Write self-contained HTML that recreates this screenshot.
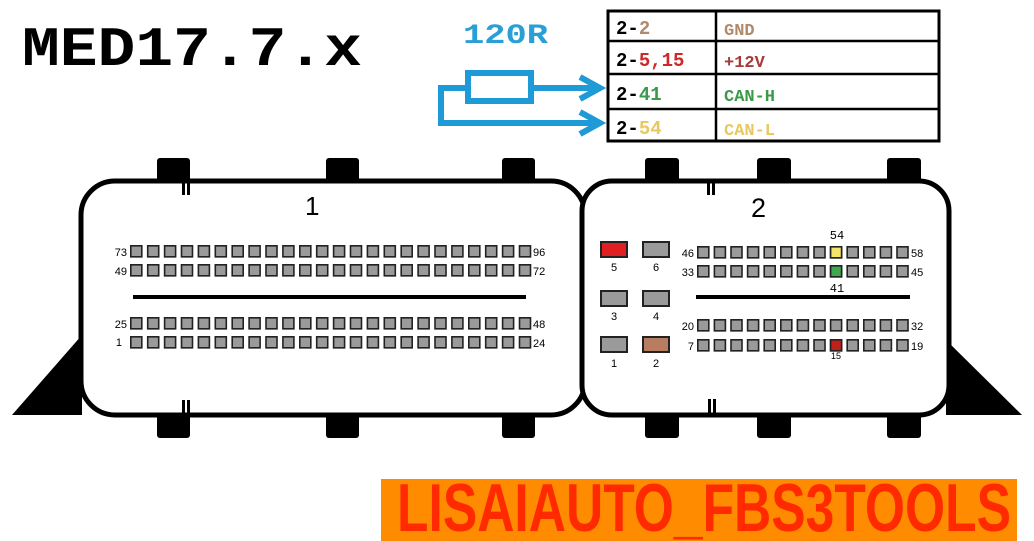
<!DOCTYPE html>
<html><head><meta charset="utf-8"><style>
html,body{margin:0;padding:0;background:#fff;width:1034px;height:541px;overflow:hidden}
svg{display:block}
</style></head><body>
<svg width="1034" height="541" viewBox="0 0 1034 541" xmlns="http://www.w3.org/2000/svg">

<text x="22" y="65" font-family="Liberation Mono, monospace" font-weight="bold" font-size="56" textLength="340" lengthAdjust="spacingAndGlyphs" fill="#000">MED17.7.x</text>

<text x="463" y="43" font-family="Liberation Mono, monospace" font-weight="bold" font-size="28" fill="#2a9fd6" textLength="85" lengthAdjust="spacingAndGlyphs">120R</text>
<g fill="none" stroke="#1e9ad6" stroke-width="6">
<rect x="468" y="73" width="63" height="28"/>
<polyline points="468,88 441,88 441,123 600,123"/>
<line x1="531" y1="88" x2="600" y2="88"/>
<polyline points="580,77 600,88 580,99"/>
<polyline points="580,112 600,123 580,134"/>
</g>

<g stroke="#000" stroke-width="3" fill="#fff">
<rect x="608" y="11" width="331" height="130"/>
</g>
<g stroke="#000" stroke-width="2.5">
<line x1="608" y1="41" x2="939" y2="41"/>
<line x1="608" y1="74" x2="939" y2="74"/>
<line x1="608" y1="109" x2="939" y2="109"/>
<line x1="716" y1="11" x2="716" y2="141"/>
</g>
<g font-family="Liberation Mono, monospace" font-weight="bold" font-size="19">
<text x="616" y="34"><tspan fill="#000">2-</tspan><tspan fill="#b08a6a">2</tspan></text>
<text x="616" y="66"><tspan fill="#000">2-</tspan><tspan fill="#d02828">5,15</tspan></text>
<text x="616" y="100"><tspan fill="#000">2-</tspan><tspan fill="#3a9a4a">41</tspan></text>
<text x="616" y="134"><tspan fill="#000">2-</tspan><tspan fill="#e8c860">54</tspan></text>
</g>
<g font-family="Liberation Mono, monospace" font-weight="bold" font-size="17">
<text x="724" y="35" fill="#b08a6a">GND</text>
<text x="724" y="67" fill="#a83a3a">+12V</text>
<text x="724" y="101" fill="#3a9a4a">CAN-H</text>
<text x="724" y="135" fill="#e8c860">CAN-L</text>
</g>

<!-- connector 1 -->
<polygon points="12,415 82,335 82,415" fill="#000"/>
<g fill="#000">
<rect x="157" y="158" width="33" height="26" rx="3"/>
<rect x="326" y="158" width="33" height="26" rx="3"/>
<rect x="502" y="158" width="33" height="26" rx="3"/>
<rect x="157" y="412" width="33" height="26" rx="3"/>
<rect x="326" y="412" width="33" height="26" rx="3"/>
<rect x="502" y="412" width="33" height="26" rx="3"/>
</g>
<rect x="81" y="181" width="504" height="234" rx="34" fill="#fff" stroke="#000" stroke-width="5"/>
<rect x="182" y="183" width="3" height="12" fill="#000"/><rect x="187" y="183" width="3" height="12" fill="#000"/>
<rect x="182" y="400" width="3" height="13" fill="#000"/><rect x="187" y="400" width="3" height="13" fill="#000"/>
<text x="305" y="215" font-family="Liberation Sans, sans-serif" font-size="26" fill="#000">1</text>
<g stroke="#222" stroke-width="12.6" stroke-dasharray="12.6 4.3">
<line x1="130" y1="251.3" x2="531.3" y2="251.3"/>
<line x1="130" y1="270.3" x2="531.3" y2="270.3"/>
<line x1="130" y1="323.3" x2="531.3" y2="323.3"/>
<line x1="130" y1="342.3" x2="531.3" y2="342.3"/>
</g>
<g stroke="#9a9a9a" stroke-width="9.4" stroke-dasharray="9.4 7.5">
<line x1="131.6" y1="251.3" x2="530" y2="251.3"/>
<line x1="131.6" y1="270.3" x2="530" y2="270.3"/>
<line x1="131.6" y1="323.3" x2="530" y2="323.3"/>
<line x1="131.6" y1="342.3" x2="530" y2="342.3"/>
</g>
<rect x="133" y="295" width="393" height="4" fill="#000"/>
<g font-family="Liberation Sans, sans-serif" font-size="11" fill="#000">
<text x="127" y="256" text-anchor="end">73</text>
<text x="127" y="275" text-anchor="end">49</text>
<text x="127" y="328" text-anchor="end">25</text>
<text x="122" y="346" text-anchor="end">1</text>
<text x="533" y="256">96</text>
<text x="533" y="275">72</text>
<text x="533" y="328">48</text>
<text x="533" y="347">24</text>
</g>

<!-- connector 2 -->
<polygon points="946,340 1022,415 946,415" fill="#000"/>
<g fill="#000">
<rect x="645" y="158" width="34" height="26" rx="3"/>
<rect x="757" y="158" width="34" height="26" rx="3"/>
<rect x="887" y="158" width="34" height="26" rx="3"/>
<rect x="645" y="412" width="34" height="26" rx="3"/>
<rect x="757" y="412" width="34" height="26" rx="3"/>
<rect x="887" y="412" width="34" height="26" rx="3"/>
</g>
<rect x="582" y="181" width="367" height="234" rx="30" fill="#fff" stroke="#000" stroke-width="5"/>
<rect x="707" y="183" width="3" height="12" fill="#000"/><rect x="712" y="183" width="3" height="12" fill="#000"/>
<rect x="708" y="399" width="3" height="14" fill="#000"/><rect x="713" y="399" width="3" height="14" fill="#000"/>
<text x="751" y="217" font-family="Liberation Sans, sans-serif" font-size="27" fill="#000">2</text>
<g stroke="#222" stroke-width="2">
<rect x="601" y="242" width="26" height="15" fill="#e02020"/>
<rect x="643" y="242" width="26" height="15" fill="#9a9a9a"/>
<rect x="601" y="291" width="26" height="15" fill="#9a9a9a"/>
<rect x="643" y="291" width="26" height="15" fill="#9a9a9a"/>
<rect x="601" y="337" width="26" height="15" fill="#9a9a9a"/>
<rect x="643" y="337" width="26" height="15" fill="#b87c60"/>
</g>
<g font-family="Liberation Sans, sans-serif" font-size="11" fill="#000" text-anchor="middle">
<text x="614" y="271">5</text><text x="656" y="271">6</text>
<text x="614" y="320">3</text><text x="656" y="320">4</text>
<text x="614" y="367">1</text><text x="656" y="367">2</text>
</g>
<g stroke="#222" stroke-width="12.6" stroke-dasharray="12.6 4">
<line x1="697" y1="252.3" x2="908.8" y2="252.3"/>
<line x1="697" y1="271.3" x2="908.8" y2="271.3"/>
<line x1="697" y1="325.3" x2="908.8" y2="325.3"/>
<line x1="697" y1="345.3" x2="908.8" y2="345.3"/>
</g>
<g stroke="#9a9a9a" stroke-width="9.4" stroke-dasharray="9.4 7.2">
<line x1="698.6" y1="252.3" x2="907.4" y2="252.3"/>
<line x1="698.6" y1="271.3" x2="907.4" y2="271.3"/>
<line x1="698.6" y1="325.3" x2="907.4" y2="325.3"/>
<line x1="698.6" y1="345.3" x2="907.4" y2="345.3"/>
</g>
<g stroke="#222" stroke-width="1.6">
<rect x="830.6" y="246.8" width="11" height="11" fill="#f3e46a"/>
<rect x="830.6" y="265.8" width="11" height="11" fill="#3fa84f"/>
<rect x="830.6" y="339.8" width="11" height="11" fill="#c0201a"/>
</g>
<rect x="696" y="295" width="214" height="4" fill="#000"/>
<g font-family="Liberation Sans, sans-serif" font-size="11" fill="#000">
<text x="694" y="257" text-anchor="end">46</text>
<text x="694" y="276" text-anchor="end">33</text>
<text x="694" y="330" text-anchor="end">20</text>
<text x="694" y="350" text-anchor="end">7</text>
<text x="911" y="257">58</text>
<text x="911" y="276">45</text>
<text x="911" y="330">32</text>
<text x="911" y="350">19</text>
<text x="836" y="359" text-anchor="middle" font-size="9">15</text>
</g>
<g font-family="Liberation Mono, monospace" font-size="12" fill="#000" text-anchor="middle">
<text x="837" y="239">54</text>
<text x="837" y="292">41</text>
</g>

<!-- banner -->
<rect x="381" y="479" width="636" height="62" fill="#ff8c00"/>
<text x="397" y="531" font-family="Liberation Sans, sans-serif" font-weight="bold" font-size="68" fill="#ff2a00" textLength="614" lengthAdjust="spacingAndGlyphs">LISAIAUTO_FBS3TOOLS</text>
</svg>
</body></html>
